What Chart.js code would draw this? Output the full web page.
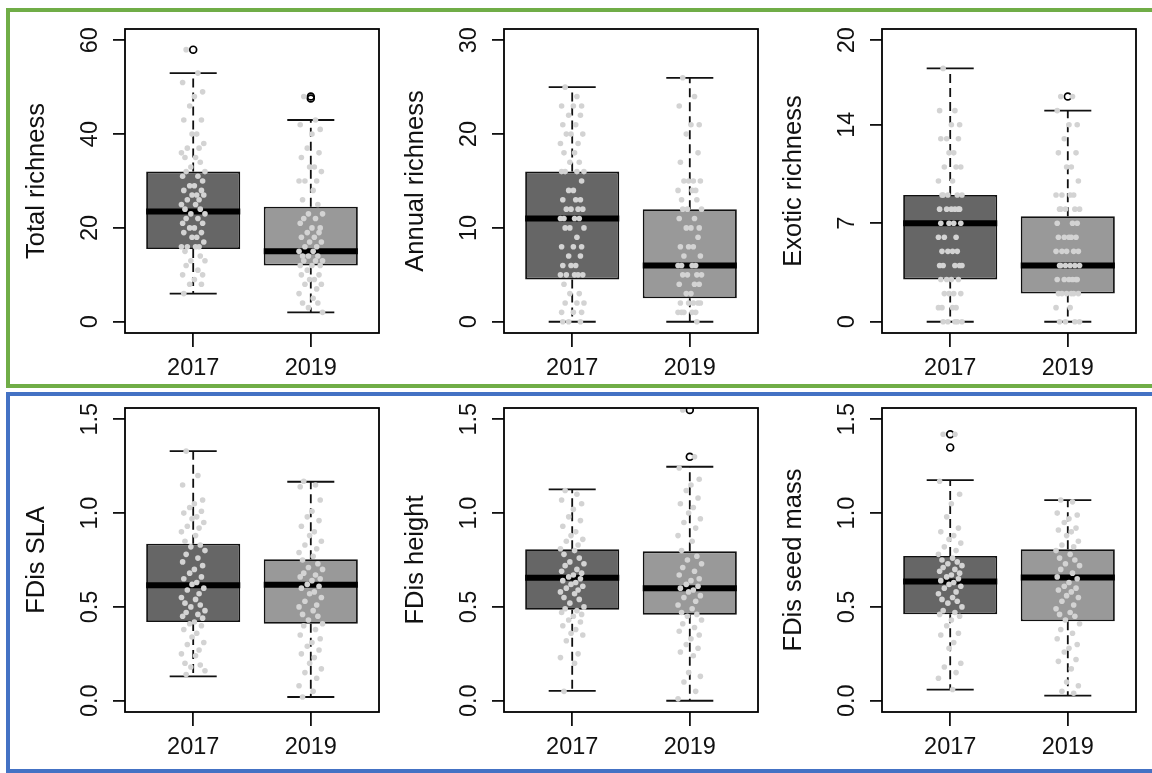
<!DOCTYPE html>
<html>
<head>
<meta charset="utf-8">
<script src="https://cdn.jsdelivr.net/npm/chart.js@4.4.1/dist/chart.umd.min.js"></script>
<style>
  body { margin: 0; background: #fff; width: 1152px; height: 773px; overflow: hidden; position: relative; }
  canvas { position: absolute; }
  .frame { position: absolute; box-sizing: border-box; border: 4px solid; }
</style>
</head>
<body>
<div class="frame" style="left:6px;top:8px;width:1160px;height:380px;border-color:#70ad47"></div>
<div class="frame" style="left:6px;top:392px;width:1160px;height:381px;border-color:#4472c4"></div>
<script>
// groups and axis text
const years = ['2017', '2019'];
const titles = ['Total richness', 'Annual richness', 'Exotic richness', 'FDis SLA', 'FDis height', 'FDis seed mass'];
const yLimits = [[0, 60], [0, 30], [0, 20], [0, 1.5], [0, 1.5], [0, 1.5]];
const yTicks = [[0, 20, 40, 60], [0, 10, 20, 30], [0, 7, 14, 20], [0, 0.5, 1, 1.5], [0, 0.5, 1, 1.5], [0, 0.5, 1, 1.5]];
const yTickLabels = [['0', '20', '40', '60'], ['0', '10', '20', '30'], ['0', '7', '14', '20'],
  ['0.0', '0.5', '1.0', '1.5'], ['0.0', '0.5', '1.0', '1.5'], ['0.0', '0.5', '1.0', '1.5']];

// box stats: [lower whisker, Q1, median, Q3, upper whisker]
const totalBox2017 = [6, 15.5, 23.5, 32, 53];
const totalBox2019 = [2, 12, 15, 24.5, 43];
const totalOut2017 = [58];
const totalOut2019 = [48, 47.6];
const totalPts2017 = [58, 53, 51, 49, 48, 46, 43, 43, 40, 40, 38, 37, 37, 36, 35, 35, 34, 33, 32, 32, 31, 31, 30, 29, 29,
  28, 28, 27, 27, 27, 26, 26, 25, 25, 24, 24, 23, 23, 22, 22, 21, 21, 20, 20, 19, 19, 18, 18, 17, 16, 16, 16, 16, 15, 14,
  13, 13, 12, 11, 10, 10, 9, 8, 8, 6];
const totalPts2019 = [48, 43, 42, 41, 40, 37, 36, 35, 33, 33, 32, 30, 30, 30, 28, 26, 25, 23, 23, 22, 22, 21, 20, 20, 19,
  19, 18, 18, 17, 17, 16, 16, 15, 15, 14, 14, 14, 13, 13, 13, 12, 12, 12, 11, 10, 10, 9, 9, 8, 8, 7, 6, 5, 4, 4, 3, 2];

const annualBox2017 = [0, 4.5, 11, 16, 25];
const annualBox2019 = [0, 2.5, 6, 12, 26];
const annualOut2017 = [];
const annualOut2019 = [];
const annualPts2017 = [25, 24, 23, 23, 23, 22, 22, 21, 21, 20, 20, 20, 19, 19, 18, 18, 17, 17, 16, 16, 16, 16, 15, 14, 14,
  13, 13, 13, 12, 12, 12, 12, 11, 11, 11, 11, 10, 10, 10, 9, 8, 8, 8, 7, 7, 6, 6, 6, 5, 5, 5, 5, 5, 4, 3, 3, 2, 2, 2,
  1, 1, 1, 0, 0, 0];
const annualPts2019 = [26, 24, 23, 21, 21, 20, 18, 17, 15, 15, 15, 15, 14, 14, 14, 13, 13, 12, 12, 12, 11, 11, 10, 10, 10,
  9, 8, 8, 8, 7, 7, 6, 6, 6, 6, 5, 5, 5, 5, 4, 4, 4, 3, 3, 2, 2, 2, 2, 2, 1, 1, 1, 1, 1, 0];

const exoticBox2017 = [0, 3, 7, 9, 18];
const exoticBox2019 = [0, 2, 4, 7.5, 15];
const exoticOut2017 = [];
const exoticOut2019 = [16];
const exoticPts2017 = [18, 15, 15, 14, 14, 13, 13, 13, 12, 12, 11, 11, 11, 10, 10, 9, 9, 9, 9, 9, 8, 8, 8, 8, 8, 8,
  7, 7, 7, 7, 6, 6, 6, 5, 5, 5, 5, 4, 4, 4, 4, 4, 3, 3, 3, 3, 2, 2, 2, 2, 1, 1, 1, 1, 0, 0, 0, 0, 0];
const exoticPts2019 = [16, 16, 15, 14, 14, 13, 12, 12, 11, 11, 10, 9, 9, 9, 9, 8, 8, 8, 8, 8, 7, 7, 7, 6, 6, 6, 6, 6,
  5, 5, 5, 5, 5, 4, 4, 4, 4, 4, 4, 3, 3, 3, 3, 3, 3, 2, 2, 2, 2, 2, 2, 1, 1, 0, 0, 0, 0];

const slaBox2017 = [0.13, 0.42, 0.615, 0.837, 1.33];
const slaBox2019 = [0.02, 0.41, 0.618, 0.754, 1.167];
const slaOut2017 = [];
const slaOut2019 = [];
const slaPts2017 = [1.33, 1.2, 1.15, 1.07, 1.05, 1.03, 1.01, 1.0, 0.98, 0.97, 0.95, 0.93, 0.92, 0.9, 0.88, 0.85, 0.83,
  0.82, 0.8, 0.78, 0.76, 0.74, 0.72, 0.7, 0.68, 0.66, 0.65, 0.63, 0.62, 0.6, 0.59, 0.57, 0.55, 0.54, 0.52, 0.51, 0.5,
  0.48, 0.47, 0.46, 0.45, 0.44, 0.42, 0.41, 0.4, 0.38, 0.36, 0.34, 0.31, 0.3, 0.27, 0.25, 0.24, 0.2, 0.19, 0.18, 0.16, 0.14];
const slaPts2019 = [1.17, 1.15, 1.14, 1.07, 1.01, 0.98, 0.96, 0.93, 0.9, 0.88, 0.85, 0.83, 0.81, 0.79, 0.77, 0.75, 0.73,
  0.71, 0.7, 0.68, 0.67, 0.66, 0.65, 0.64, 0.62, 0.61, 0.6, 0.58, 0.57, 0.55, 0.53, 0.51, 0.5, 0.48, 0.46, 0.45, 0.43,
  0.41, 0.4, 0.38, 0.35, 0.33, 0.31, 0.29, 0.27, 0.25, 0.23, 0.2, 0.17, 0.15, 0.12, 0.08, 0.05, 0.02];

const heightBox2017 = [0.053, 0.485, 0.656, 0.807, 1.126];
const heightBox2019 = [0.0, 0.458, 0.6, 0.796, 1.247];
const heightOut2017 = [];
const heightOut2019 = [1.3, 1.55];
const heightPts2017 = [1.12, 1.1, 1.07, 1.05, 1.02, 0.98, 0.96, 0.93, 0.9, 0.88, 0.86, 0.85, 0.83, 0.81, 0.8, 0.78, 0.76,
  0.74, 0.73, 0.72, 0.7, 0.69, 0.68, 0.67, 0.66, 0.65, 0.64, 0.63, 0.62, 0.61, 0.6, 0.59, 0.58, 0.57, 0.55, 0.54, 0.52,
  0.5, 0.49, 0.48, 0.47, 0.46, 0.45, 0.43, 0.42, 0.4, 0.38, 0.36, 0.35, 0.32, 0.25, 0.23, 0.2, 0.05];
const heightPts2019 = [1.55, 1.3, 1.24, 1.18, 1.15, 1.12, 1.08, 1.05, 1.03, 1.0, 0.97, 0.95, 0.92, 0.88, 0.85, 0.8, 0.77,
  0.75, 0.73, 0.71, 0.69, 0.67, 0.65, 0.64, 0.62, 0.61, 0.6, 0.59, 0.58, 0.56, 0.55, 0.53, 0.51, 0.49, 0.47, 0.46, 0.45,
  0.43, 0.41, 0.39, 0.37, 0.35, 0.33, 0.3, 0.28, 0.26, 0.24, 0.15, 0.13, 0.1, 0.05, 0.01];

const seedBox2017 = [0.059, 0.461, 0.636, 0.771, 1.176];
const seedBox2019 = [0.027, 0.424, 0.657, 0.807, 1.069];
const seedOut2017 = [1.42, 1.35];
const seedOut2019 = [];
const seedPts2017 = [1.42, 1.42, 1.17, 1.1, 1.05, 0.98, 0.92, 0.9, 0.88, 0.86, 0.84, 0.82, 0.8, 0.78, 0.76, 0.75, 0.74,
  0.73, 0.72, 0.71, 0.7, 0.69, 0.68, 0.67, 0.66, 0.65, 0.64, 0.63, 0.62, 0.61, 0.6, 0.58, 0.57, 0.55, 0.54, 0.53, 0.52,
  0.5, 0.48, 0.47, 0.46, 0.45, 0.43, 0.4, 0.36, 0.35, 0.31, 0.28, 0.2, 0.18, 0.15, 0.12, 0.06];
const seedPts2019 = [1.07, 1.06, 1.0, 0.99, 0.97, 0.95, 0.92, 0.91, 0.9, 0.88, 0.85, 0.83, 0.82, 0.8, 0.78, 0.76, 0.75,
  0.73, 0.72, 0.7, 0.68, 0.66, 0.65, 0.63, 0.61, 0.6, 0.59, 0.58, 0.56, 0.55, 0.53, 0.51, 0.49, 0.47, 0.46, 0.45, 0.43,
  0.41, 0.38, 0.36, 0.33, 0.3, 0.28, 0.26, 0.22, 0.21, 0.17, 0.1, 0.08, 0.05, 0.04];

// horizontal jitter of the grey points (x units)
const jitter = [-0.06, 0.04, -0.09, 0.08, 0.01, -0.03, 0.07, -0.08, 0.03, -0.01, 0.09, -0.05, 0.05, -0.1, 0.02,
  -0.07, 0.06, -0.02, 0.1];

const panels = [
  [[totalBox2017, totalBox2019], [totalOut2017, totalOut2019], [totalPts2017, totalPts2019]],
  [[annualBox2017, annualBox2019], [annualOut2017, annualOut2019], [annualPts2017, annualPts2019]],
  [[exoticBox2017, exoticBox2019], [exoticOut2017, exoticOut2019], [exoticPts2017, exoticPts2019]],
  [[slaBox2017, slaBox2019], [slaOut2017, slaOut2019], [slaPts2017, slaPts2019]],
  [[heightBox2017, heightBox2019], [heightOut2017, heightOut2019], [heightPts2017, heightPts2019]],
  [[seedBox2017, seedBox2019], [seedOut2017, seedOut2019], [seedPts2017, seedPts2019]]
];

const FONT = '"Liberation Sans", Arial, sans-serif';
const FS = 23.5;
const boxLefts = [125, 504, 882];
const boxTops = [29, 408];

// plot frame + rotated y tick labels (R style)
const rFrame = {
  id: 'rFrame',
  afterDraw(chart, args, opts) {
    const { ctx, chartArea: a } = chart;
    const y = chart.scales.y;
    ctx.save();
    ctx.lineWidth = 1.8;
    ctx.strokeStyle = '#000';
    ctx.strokeRect(a.left, a.top, a.right - a.left, a.bottom - a.top);
    ctx.fillStyle = '#111';
    ctx.font = FS + 'px ' + FONT;
    ctx.textAlign = 'center';
    ctx.textBaseline = 'alphabetic';
    y.ticks.forEach(function (t, i) {
      ctx.save();
      ctx.translate(a.left - 28, y.getPixelForValue(t.value));
      ctx.rotate(-Math.PI / 2);
      ctx.fillText(opts.labels[i], 0, 0);
      ctx.restore();
    });
    ctx.restore();
  }
};

function segs(list) {
  // list of [[x1,y1],[x2,y2]] -> points with gaps between segments
  const out = [];
  list.forEach(function (s) {
    out.push({ x: s[0][0], y: s[0][1] }, { x: s[1][0], y: s[1][1] }, { x: s[1][0], y: null });
  });
  return out;
}

panels.forEach(function (p, k) {
  const boxes = p[0], outs = p[1], pts = p[2];
  const col = k % 3, row = Math.floor(k / 3);
  const canvas = document.createElement('canvas');
  canvas.width = 386;
  canvas.height = 388;
  canvas.style.left = (boxLefts[col] - 124) + 'px';
  canvas.style.top = (boxTops[row] - 29) + 'px';
  document.body.appendChild(canvas);

  const lim = yLimits[k];
  const ext = (lim[1] - lim[0]) * 0.04;

  const points = [], outliers = [];
  pts.forEach(function (g, gi) {
    g.forEach(function (v, i) { points.push({ x: gi + 1 + jitter[i % jitter.length], y: v }); });
  });
  outs.forEach(function (g, gi) {
    g.forEach(function (v) { outliers.push({ x: gi + 1, y: v }); });
  });
  const med = [], staple = [], whisk = [];
  boxes.forEach(function (b, gi) {
    const x = gi + 1;
    med.push([[x - 0.4, b[2]], [x + 0.4, b[2]]]);
    staple.push([[x - 0.2, b[4]], [x + 0.2, b[4]]], [[x - 0.2, b[0]], [x + 0.2, b[0]]]);
    whisk.push([[x, b[3]], [x, b[4]]], [[x, b[1]], [x, b[0]]]);
  });

  new Chart(canvas, {
    type: 'bar',
    data: {
      datasets: [
        { type: 'scatter', data: points, backgroundColor: '#d3d3d3', borderWidth: 0, pointRadius: 2.8, order: 0 },
        { type: 'scatter', data: outliers, backgroundColor: 'rgba(0,0,0,0)', borderColor: '#000', borderWidth: 1.7,
          pointRadius: 3.4, order: 1 },
        { type: 'line', data: segs(med), borderColor: '#000', borderWidth: 6, borderCapStyle: 'butt',
          pointRadius: 0, spanGaps: false, order: 2 },
        { type: 'line', data: segs(staple), borderColor: '#111', borderWidth: 1.8, pointRadius: 0, spanGaps: false, order: 3 },
        { type: 'line', data: segs(whisk), borderColor: '#111', borderWidth: 1.8, borderDash: [9, 5],
          pointRadius: 0, spanGaps: false, order: 4 },
        { type: 'bar', data: boxes.map(function (b, gi) { return { x: gi + 1, y: [b[1], b[3]] }; }),
          backgroundColor: ['#666666', '#999999'], borderColor: '#111', borderWidth: 1.8, borderSkipped: false,
          grouped: false, barPercentage: 0.8, categoryPercentage: 1, order: 5 }
      ]
    },
    options: {
      responsive: false,
      animation: false,
      devicePixelRatio: 1,
      layout: { padding: { left: 0, top: 29, right: 8, bottom: 0 } },
      plugins: { legend: { display: false }, tooltip: { enabled: false }, rFrame: { labels: yTickLabels[k] } },
      scales: {
        x: {
          type: 'linear', min: 0.42, max: 2.58, offset: false,
          afterBuildTicks: function (s) { s.ticks = years.map(function (y, i) { return { value: i + 1 }; }); },
          afterFit: function (s) { s.height = 55; },
          ticks: { color: '#111', padding: 7, font: { family: FONT, size: FS }, maxRotation: 0,
            callback: function (v) { return years[v - 1]; } },
          grid: { offset: false, drawOnChartArea: false, drawTicks: true, tickLength: 14, color: '#111', lineWidth: 1.8 },
          border: { display: false }
        },
        y: {
          type: 'linear', min: lim[0] - ext, max: lim[1] + ext,
          afterBuildTicks: function (s) { s.ticks = yTicks[k].map(function (v) { return { value: v }; }); },
          afterFit: function (s) { s.width = 124; },
          ticks: { display: false },
          grid: { drawOnChartArea: false, drawTicks: true, tickLength: 12, color: '#111', lineWidth: 1.8 },
          border: { display: false },
          title: { display: true, text: titles[k], color: '#111', font: { family: FONT, size: 25.5 },
            padding: { top: 21, bottom: 0 } }
        }
      }
    },
    plugins: [rFrame]
  });
});
</script>
</body>
</html>
